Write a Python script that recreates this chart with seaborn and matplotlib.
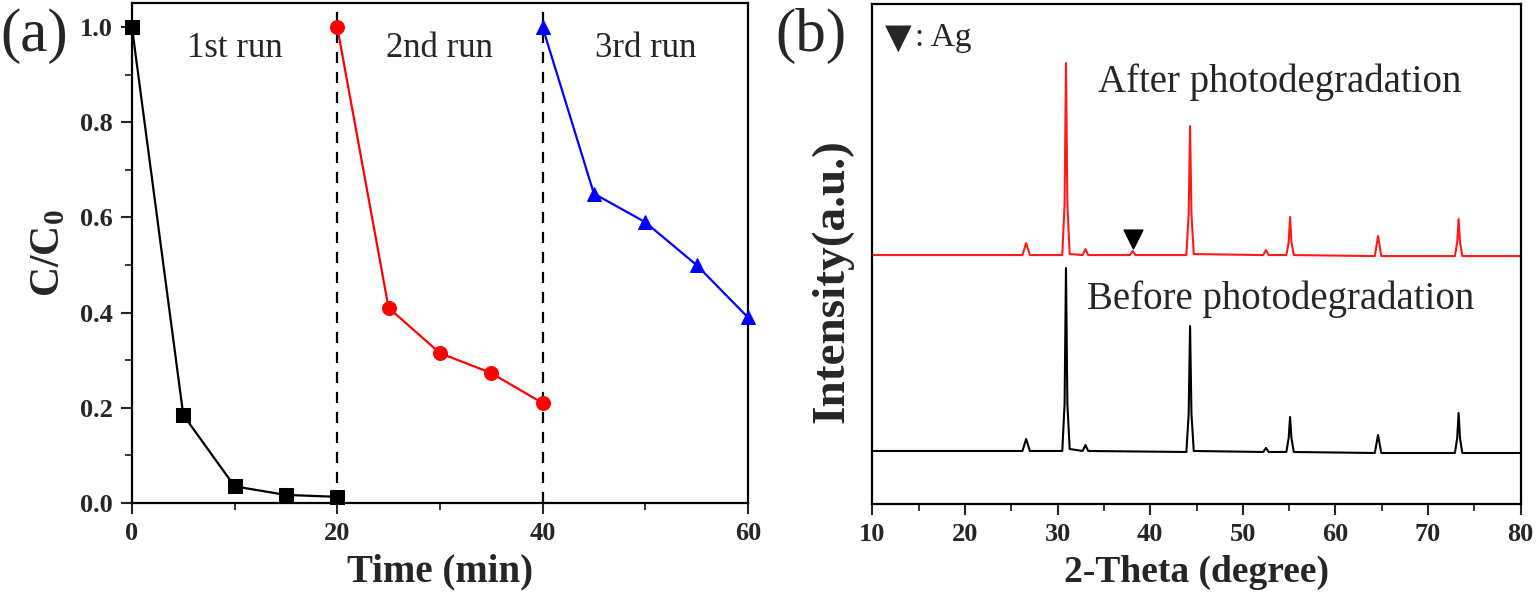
import numpy as np
import pandas as pd
import matplotlib
matplotlib.use("Agg")
import matplotlib.pyplot as plt
from matplotlib.ticker import MultipleLocator
import seaborn as sns

# ---------------------------------------------------------------
# (a) cycling runs: C/C0 vs time
run1_time = [0, 5, 10, 15, 20]
run1_conc = [1.0, 0.185, 0.035, 0.017, 0.013]
run2_time = [20, 25, 30, 35, 40]
run2_conc = [1.0, 0.41, 0.315, 0.273, 0.21]
run3_time = [40, 45, 50, 55, 60]
run3_conc = [1.0, 0.65, 0.59, 0.50, 0.39]
run_labels = ["1st run", "2nd run", "3rd run"]

# (b) XRD patterns, vertices (intensity in a.u.)
after_theta = [10, 26.2, 26.6, 27.0, 30.5, 30.75, 30.9, 31.05, 31.3, 32.7, 33.0, 33.3,
               37.8, 38.1, 38.4, 43.9, 44.15, 44.3, 44.45, 44.7, 52.2, 52.5, 52.8,
               54.7, 54.95, 55.1, 55.25, 55.5, 64.25, 64.6, 64.95, 72.9, 73.15, 73.3,
               73.45, 73.7, 80]
after_int = [249, 249, 261, 249, 249, 300, 441, 300, 250, 249, 255, 249,
             249, 253, 249, 249, 290, 378, 290, 250, 249, 254, 249,
             249, 262, 287, 262, 249, 248, 268, 248, 248, 262, 285,
             262, 248, 248]
before_theta = [10, 26.2, 26.6, 27.0, 30.5, 30.75, 30.9, 31.05, 31.3, 32.7, 33.0, 33.3,
                43.9, 44.15, 44.3, 44.45, 44.7, 52.2, 52.5, 52.8,
                54.7, 54.95, 55.1, 55.25, 55.5, 64.25, 64.6, 64.95, 72.9, 73.15, 73.3,
                73.45, 73.7, 80]
before_int = [53, 53, 65, 53, 53, 100, 236, 100, 55, 53, 59, 53,
              52, 90, 178, 90, 53, 52, 56, 52,
              52, 66, 87, 66, 52, 51, 69, 51, 51, 66, 91,
              66, 51, 51]
ag_theta = [38.1]
ag_int = [265]

# ---------------------------------------------------------------
sns.set_style("ticks")
plt.rcParams['font.family'] = ['Liberation Serif', 'DejaVu Sans']
plt.rcParams['mathtext.fontset'] = 'custom'
plt.rcParams['mathtext.rm'] = 'Liberation Serif'
plt.rcParams['mathtext.bf'] = 'Liberation Serif:bold'

fig = plt.figure(figsize=(15.36, 5.95), dpi=100)
ax1 = fig.add_axes([0.0859, 0.1546, 0.401, 0.840])
ax2 = fig.add_axes([0.568, 0.153, 0.422, 0.840])

# ---- panel (a)
runs = [(run1_time, run1_conc, "black", "s"),
        (run2_time, run2_conc, "#ff0000", "o"),
        (run3_time, run3_conc, "#0000ff", "^")]
for (t, c, col, mk), lab in zip(runs, run_labels):
    df = pd.DataFrame({"Time": t, "C": c})
    sns.lineplot(data=df, x="Time", y="C", ax=ax1, color=col, marker=mk,
                 markersize=10, markeredgecolor=col, linewidth=1.6,
                 estimator=None, sort=False, clip_on=False, zorder=3)

for xv in [20, 40]:
    ax1.axvline(xv, color="black", linestyle=(0, (5, 4)), linewidth=1.6, zorder=2)

ax1.set_xlim(0, 60)
ax1.set_ylim(0, 1.05)
ax1.xaxis.set_major_locator(MultipleLocator(20))
ax1.xaxis.set_minor_locator(MultipleLocator(10))
ax1.yaxis.set_major_locator(MultipleLocator(0.2))
ax1.yaxis.set_minor_locator(MultipleLocator(0.1))
ax1.yaxis.set_major_formatter(plt.FormatStrFormatter("%.1f"))
ax1.set_xlabel("Time (min)", fontsize=28, fontweight="bold", labelpad=6)
ax1.set_ylabel(r"$\mathbf{C/C_0}$", fontsize=30, labelpad=8)

for xt, lab in zip([10, 30, 50], run_labels):
    ax1.text(xt, 0.955, lab, fontsize=25, ha="center", va="center")

# ---- panel (b)
sns.lineplot(x=after_theta, y=after_int, ax=ax2, color="#ff1a1a", linewidth=1.5,
             estimator=None, sort=False)
sns.lineplot(x=before_theta, y=before_int, ax=ax2, color="black", linewidth=1.5,
             estimator=None, sort=False)
sns.scatterplot(x=ag_theta, y=ag_int, ax=ax2, marker="v", s=180, color="black",
                edgecolor="black")

ax2.set_xlim(10, 80)
ax2.set_ylim(0, 500)
ax2.xaxis.set_major_locator(MultipleLocator(10))
ax2.xaxis.set_minor_locator(MultipleLocator(5))
ax2.set_yticks([])
ax2.set_xlabel("2-Theta (degree)", fontsize=27, fontweight="bold", labelpad=6)
ax2.set_ylabel("Intensity(a.u.)", fontsize=34, fontweight="bold")
ax2.yaxis.set_label_coords(-0.03, 0.445)

ax2.text(11.3, 466, "▼", fontsize=25, ha="left", va="center", family="DejaVu Sans")
ax2.text(14.6, 466, ": Ag", fontsize=24, ha="left", va="center")
ax2.text(54.0, 422, "After photodegradation", fontsize=28, ha="center", va="center")
ax2.text(54.1, 205, "Before photodegradation", fontsize=28, ha="center", va="center")

for ax in (ax1, ax2):
    for sp in ax.spines.values():
        sp.set_linewidth(1.6)
        sp.set_color("black")
    ax.tick_params(which="major", direction="out", length=8, width=1.5,
                   labelsize=19, pad=6)
    ax.tick_params(which="minor", direction="out", length=5, width=1.3)
    for lb in ax.get_xticklabels() + ax.get_yticklabels():
        lb.set_fontweight("bold")
    ax.tick_params(top=False, right=False, which="both")

fig.text(0.0, 0.94, "(a)", fontsize=44, ha="left", va="center")
fig.text(0.505, 0.94, "(b)", fontsize=44, ha="left", va="center")

fig.savefig("out.png", dpi=100)
